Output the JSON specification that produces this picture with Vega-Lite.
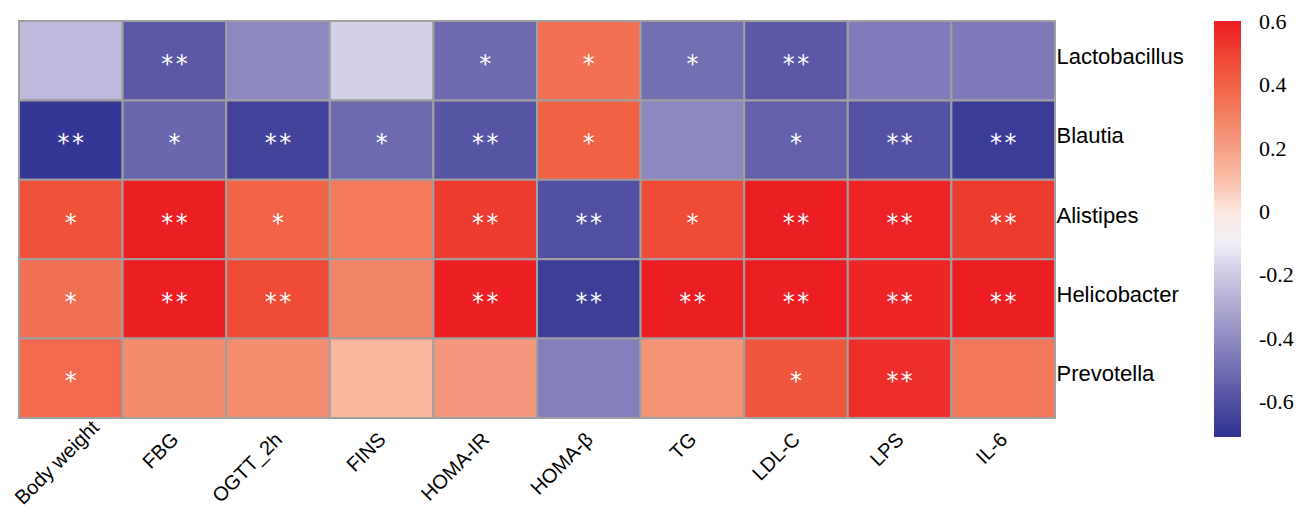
{
  "$schema": "https://vega.github.io/schema/vega-lite/v6.json",
  "width": 1036,
  "height": 397,
  "autosize": "none",
  "padding": {"left": 19, "top": 21, "right": 244, "bottom": 90},
  "background": "white",
  "config": {"view": {"stroke": null}},
  "data": {
    "values": [
      {"genus": "Lactobacillus", "var": "Body weight", "r": -0.25, "sig": ""},
      {"genus": "Lactobacillus", "var": "FBG", "r": -0.57, "sig": "**"},
      {"genus": "Lactobacillus", "var": "OGTT_2h", "r": -0.41, "sig": ""},
      {"genus": "Lactobacillus", "var": "FINS", "r": -0.18, "sig": ""},
      {"genus": "Lactobacillus", "var": "HOMA-IR", "r": -0.51, "sig": "*"},
      {"genus": "Lactobacillus", "var": "HOMA-β", "r": 0.36, "sig": "*"},
      {"genus": "Lactobacillus", "var": "TG", "r": -0.49, "sig": "*"},
      {"genus": "Lactobacillus", "var": "LDL-C", "r": -0.57, "sig": "**"},
      {"genus": "Lactobacillus", "var": "LPS", "r": -0.45, "sig": ""},
      {"genus": "Lactobacillus", "var": "IL-6", "r": -0.455, "sig": ""},
      {"genus": "Blautia", "var": "Body weight", "r": -0.69, "sig": "**"},
      {"genus": "Blautia", "var": "FBG", "r": -0.52, "sig": "*"},
      {"genus": "Blautia", "var": "OGTT_2h", "r": -0.645, "sig": "**"},
      {"genus": "Blautia", "var": "FINS", "r": -0.51, "sig": "*"},
      {"genus": "Blautia", "var": "HOMA-IR", "r": -0.58, "sig": "**"},
      {"genus": "Blautia", "var": "HOMA-β", "r": 0.41, "sig": "*"},
      {"genus": "Blautia", "var": "TG", "r": -0.41, "sig": ""},
      {"genus": "Blautia", "var": "LDL-C", "r": -0.54, "sig": "*"},
      {"genus": "Blautia", "var": "LPS", "r": -0.59, "sig": "**"},
      {"genus": "Blautia", "var": "IL-6", "r": -0.67, "sig": "**"},
      {"genus": "Alistipes", "var": "Body weight", "r": 0.46, "sig": "*"},
      {"genus": "Alistipes", "var": "FBG", "r": 0.6, "sig": "**"},
      {"genus": "Alistipes", "var": "OGTT_2h", "r": 0.4, "sig": "*"},
      {"genus": "Alistipes", "var": "FINS", "r": 0.324, "sig": ""},
      {"genus": "Alistipes", "var": "HOMA-IR", "r": 0.52, "sig": "**"},
      {"genus": "Alistipes", "var": "HOMA-β", "r": -0.6, "sig": "**"},
      {"genus": "Alistipes", "var": "TG", "r": 0.476, "sig": "*"},
      {"genus": "Alistipes", "var": "LDL-C", "r": 0.6, "sig": "**"},
      {"genus": "Alistipes", "var": "LPS", "r": 0.585, "sig": "**"},
      {"genus": "Alistipes", "var": "IL-6", "r": 0.52, "sig": "**"},
      {"genus": "Helicobacter", "var": "Body weight", "r": 0.36, "sig": "*"},
      {"genus": "Helicobacter", "var": "FBG", "r": 0.6, "sig": "**"},
      {"genus": "Helicobacter", "var": "OGTT_2h", "r": 0.476, "sig": "**"},
      {"genus": "Helicobacter", "var": "FINS", "r": 0.29, "sig": ""},
      {"genus": "Helicobacter", "var": "HOMA-IR", "r": 0.595, "sig": "**"},
      {"genus": "Helicobacter", "var": "HOMA-β", "r": -0.665, "sig": "**"},
      {"genus": "Helicobacter", "var": "TG", "r": 0.6, "sig": "**"},
      {"genus": "Helicobacter", "var": "LDL-C", "r": 0.6, "sig": "**"},
      {"genus": "Helicobacter", "var": "LPS", "r": 0.58, "sig": "**"},
      {"genus": "Helicobacter", "var": "IL-6", "r": 0.6, "sig": "**"},
      {"genus": "Prevotella", "var": "Body weight", "r": 0.38, "sig": "*"},
      {"genus": "Prevotella", "var": "FBG", "r": 0.265, "sig": ""},
      {"genus": "Prevotella", "var": "OGTT_2h", "r": 0.26, "sig": ""},
      {"genus": "Prevotella", "var": "FINS", "r": 0.127, "sig": ""},
      {"genus": "Prevotella", "var": "HOMA-IR", "r": 0.227, "sig": ""},
      {"genus": "Prevotella", "var": "HOMA-β", "r": -0.435, "sig": ""},
      {"genus": "Prevotella", "var": "TG", "r": 0.24, "sig": ""},
      {"genus": "Prevotella", "var": "LDL-C", "r": 0.447, "sig": "*"},
      {"genus": "Prevotella", "var": "LPS", "r": 0.555, "sig": "**"},
      {"genus": "Prevotella", "var": "IL-6", "r": 0.34, "sig": ""}
    ]
  },
  "encoding": {
    "x": {
      "field": "var",
      "type": "nominal",
      "sort": null,
      "scale": {"domain": ["Body weight", "FBG", "OGTT_2h", "FINS", "HOMA-IR", "HOMA-β", "TG", "LDL-C", "LPS", "IL-6"], "paddingInner": 0, "paddingOuter": 0},
      "axis": {
        "title": null,
        "orient": "bottom",
        "domain": false,
        "ticks": false,
        "labelAngle": -45,
        "labelAlign": "right",
        "labelBaseline": "top",
        "labelPadding": {"condition": {"test": "datum.value === 'Body weight'", "value": -1}, "value": 11},
        "labelOffset": {"condition": {"test": "datum.value === 'Body weight'", "value": 18}, "value": -6},
        "labelFont": "Liberation Sans",
        "labelFontSize": 20,
        "labelColor": "#000000",
        "labelOverlap": false,
        "labelBound": false
      }
    },
    "y": {
      "field": "genus",
      "type": "nominal",
      "sort": null,
      "scale": {"domain": ["Lactobacillus", "Blautia", "Alistipes", "Helicobacter", "Prevotella"], "paddingInner": 0, "paddingOuter": 0},
      "axis": {
        "title": null,
        "orient": "right",
        "domain": false,
        "ticks": false,
        "labelAlign": "left",
        "labelBaseline": "middle",
        "labelPadding": 1,
        "labelOffset": -4,
        "labelFont": "Liberation Sans",
        "labelFontSize": 22,
        "labelColor": "#000000",
        "labelOverlap": false
      }
    }
  },
  "layer": [
    {
      "mark": {"type": "rect", "stroke": "#A0A0A0", "strokeWidth": 2},
      "encoding": {
        "color": {
          "field": "r",
          "type": "quantitative",
          "scale": {
            "domain": [-0.71, -0.547, -0.383, -0.22, -0.056, 0.108, 0.272, 0.436, 0.603],
            "range": ["#2E3192", "#625FA9", "#9490C4", "#C5C2E0", "#FFFFFF", "#F9BCA5", "#F4896C", "#F05A3D", "#ED1C24"],
            "interpolate": "rgb"
          },
          "legend": {
            "title": null,
            "orient": "none",
            "legendX": 1195,
            "legendY": 0,
            "direction": "vertical",
            "gradientLength": 416,
            "gradientThickness": 27,
            "gradientStrokeWidth": 0,
            "values": [-0.6, -0.4, -0.2, 0, 0.2, 0.4, 0.6],
            "labelExpr": "'' + datum.value",
            "labelFont": "Liberation Serif",
            "labelFontSize": 22,
            "labelColor": "#000000",
            "labelBaseline": "middle",
            "labelOffset": 18,
            "labelOverlap": false,
            "padding": 0
          }
        }
      }
    },
    {
      "mark": {"type": "text", "color": "#FFFFFF", "font": "DejaVu Sans Mono", "fontSize": 24, "baseline": "alphabetic", "dy": 11},
      "encoding": {"text": {"field": "sig"}}
    }
  ]
}
